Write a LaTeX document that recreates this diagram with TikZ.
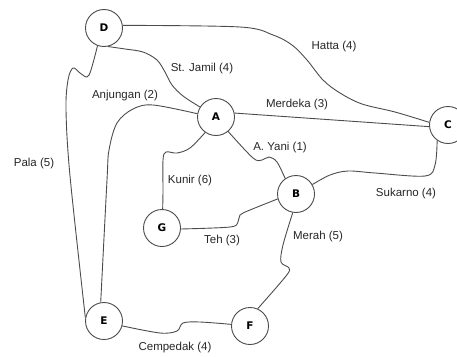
\documentclass[tikz,border=0pt]{standalone}
\usepackage{fontspec}
\setmainfont{Liberation Sans}
\newfontfamily\nodefont{DejaVu Sans}
\begin{document}
\begin{tikzpicture}[x=1pt,y=-1pt,
  city/.style={circle,draw=black!70,line width=0.9pt,fill=white,minimum size=37pt,inner sep=0pt,font=\nodefont\bfseries\fontsize{10.5}{12}\selectfont},
  road/.style={draw=black!70,line width=0.9pt},
  lbl/.style={font=\fontsize{11.5}{13}\selectfont,text=black!85,inner sep=0pt}]
\useasboundingbox (0,0) rectangle (457,356);
% nodes
\node[city] (D) at (104,28) {D};
\node[city] (A) at (216,117) {A};
\node[city] (C) at (448,125) {C};
\node[city] (B) at (296,194) {B};
\node[city] (G) at (162,228) {G};
\node[city] (E) at (104,321) {E};
\node[city] (F) at (250,326) {F};
% roads
\begin{scope}[road]
\draw plot[smooth,tension=0.55] coordinates {(D.8) (240,27) (273,35) (292,45) (307,60) (323,80) (340,93) (362,104) (395,112) (C.172)};
\draw plot[smooth,tension=0.55] coordinates {(D.-78) (125,49) (143,52) (157,60) (165,72) (172,85) (183,96) (A.148)};
\draw plot[smooth,tension=0.55] coordinates {(D.-110) (91,70) (87,77) (80,73) (73,68) (68,80) (66,110) (70,176) (E.170)};
\draw plot[smooth,tension=0.55] coordinates {(A.170) (153,105) (133,109) (117,123) (109,150) (107,180) (E.100)};
\draw (A.12) -- (C.185);
\draw plot[smooth,tension=0.55] coordinates {(A.-50) (253,158) (262,160) (269,157) (277,162) (B.125)};
\draw plot[smooth,tension=0.55] coordinates {(A.-125) (190,148) (177,153) (166,152) (163,160) (163,190) (G.88)};
\draw plot[smooth,tension=0.55] coordinates {(B.30) (330,175) (348,171) (375,173) (425,176) (435,165) (C.-125)};
\draw plot[smooth,tension=0.55] coordinates {(G.-3) (230,227) (238,222) (240,215) (250,210) (B.-165)};
\draw plot[smooth,tension=0.55] coordinates {(B.-100) (283,245) (281,262) (289,268) (286,276) (F.66)};
\draw plot[smooth,tension=0.55] coordinates {(E.-15) (160,333) (177,331) (183,323) (200,322) (F.175)};
\end{scope}
% labels
\node[lbl] (lHatta) at (334,47) {Hatta (4)};
\node[lbl] (lJamil) at (202,69) {St. Jamil (4)};
\node[lbl] (lAnj) at (125,96) {Anjungan (2)};
\node[lbl] (lMer) at (297,105) {Merdeka (3)};
\node[lbl] (lYani) at (280,148) {A. Yani (1)};
\node[lbl] (lPala) at (34,164) {Pala (5)};
\node[lbl] (lKunir) at (190,181) {Kunir (6)};
\node[lbl] (lSuk) at (406,194) {Sukarno (4)};
\node[lbl] (lTeh) at (222,241) {Teh (3)};
\node[lbl] (lMerah) at (318,237) {Merah (5)};
\node[lbl] (lCemp) at (175,348) {Cempedak (4)};
\end{tikzpicture}
\end{document}
